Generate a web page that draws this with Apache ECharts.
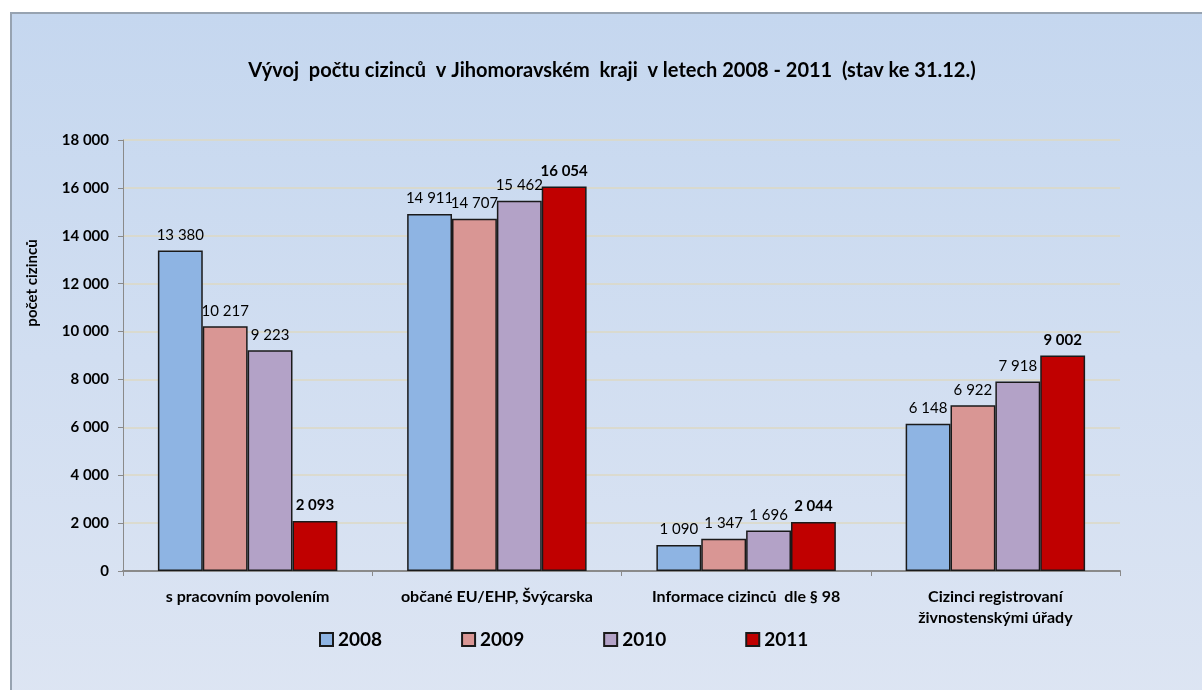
<!DOCTYPE html>
<html>
<head>
<meta charset="utf-8">
<script src="https://cdn.jsdelivr.net/npm/echarts@6/dist/echarts.min.js"></script>
<style>
    html, body { margin: 0; padding: 0; background: #ffffff; overflow: hidden; }
    #frame {
        position: absolute; left: 10px; top: 12px; width: 1200px; height: 690px;
        border-left: 2px solid #97a3b1; border-top: 2px solid #97a3b1;
        background: linear-gradient(to bottom, #c5d7ef 0%, #dde5f3 100%);
    }
    #chart { width: 1200px; height: 690px; }
</style>
</head>
<body>
<div id="frame"><div id="chart"></div></div>
<script>
    const categories = ['s pracovním povolením', 'občané EU/EHP, Švýcarska', 'Informace cizinců  dle § 98', 'Cizinci registrovaní\nživnostenskými úřady'];
    const years = ['2008', '2009', '2010', '2011'];
    const values2008 = [13380, 14911, 1090, 6148];
    const values2009 = [10217, 14707, 1347, 6922];
    const values2010 = [9223, 15462, 1696, 7918];
    const values2011 = [2093, 16054, 2044, 9002];
    const colors = ['#8eb4e3', '#d99694', '#b3a2c7', '#c00000'];

    const font = 'Lato, "Open Sans", sans-serif';
    const fmt = (v) => String(v).replace(/\B(?=(\d{3})+(?!\d))/g, ' ');

    const seriesData = [values2008, values2009, values2010, values2011];

    const myChart = echarts.init(document.getElementById('chart'));
    myChart.setOption({
        animation: false,
        backgroundColor: 'transparent',
        title: {
            text: 'Vývoj  počtu cizinců  v Jihomoravském  kraji  v letech 2008 - 2011  (stav ke 31.12.)',
            left: 'center',
            top: 42,
            textStyle: { fontFamily: font, fontWeight: 'bold', fontSize: 20, color: '#000' }
        },
        legend: {
            data: years,
            left: 302,
            top: 611,
            icon: 'rect',
            itemWidth: 13,
            itemHeight: 13,
            itemGap: 79,
            textStyle: { fontFamily: font, fontWeight: 'bold', fontSize: 19, color: '#000', width: 43 }
        },
        grid: { left: 111, top: 126, width: 997, height: 431 },
        graphic: [{
            type: 'text',
            x: 20,
            y: 269,
            rotation: Math.PI / 2,
            style: {
                text: 'počet cizinců',
                font: 'bold 15px ' + font,
                fill: '#000',
                align: 'center',
                verticalAlign: 'middle'
            }
        }],
        xAxis: {
            type: 'category',
            data: categories,
            axisLine: { lineStyle: { color: '#8a8a8a', width: 2 } },
            axisTick: { show: true, length: 5, lineStyle: { color: '#8a8a8a' } },
            axisLabel: {
                interval: 0,
                margin: 15,
                lineHeight: 21,
                fontFamily: font, fontWeight: 'bold', fontSize: 16, color: '#000'
            }
        },
        yAxis: {
            type: 'value',
            min: 0,
            max: 18000,
            interval: 2000,
            axisLine: { show: true, lineStyle: { color: '#8a8a8a', width: 1 } },
            axisTick: { show: true, length: 5, lineStyle: { color: '#8a8a8a' } },
            splitLine: { lineStyle: { color: '#ddd9c3', width: 1.5 } },
            axisLabel: {
                margin: 14,
                formatter: fmt,
                fontFamily: font, fontWeight: 'bold', fontSize: 15, color: '#000'
            }
        },
        series: years.map((y, i) => ({
            name: y,
            type: 'bar',
            data: seriesData[i],
            barGap: '0%',
            barCategoryGap: '28%',
            itemStyle: { color: colors[i], borderColor: '#1a1a1a', borderWidth: 1.5 },
            label: {
                show: true,
                position: 'top',
                distance: 8,
                formatter: (p) => fmt(p.value),
                fontFamily: font,
                fontSize: 15,
                fontWeight: i === 3 ? 'bold' : 'normal',
                color: '#000'
            }
        }))
    });
</script>
</body>
</html>
